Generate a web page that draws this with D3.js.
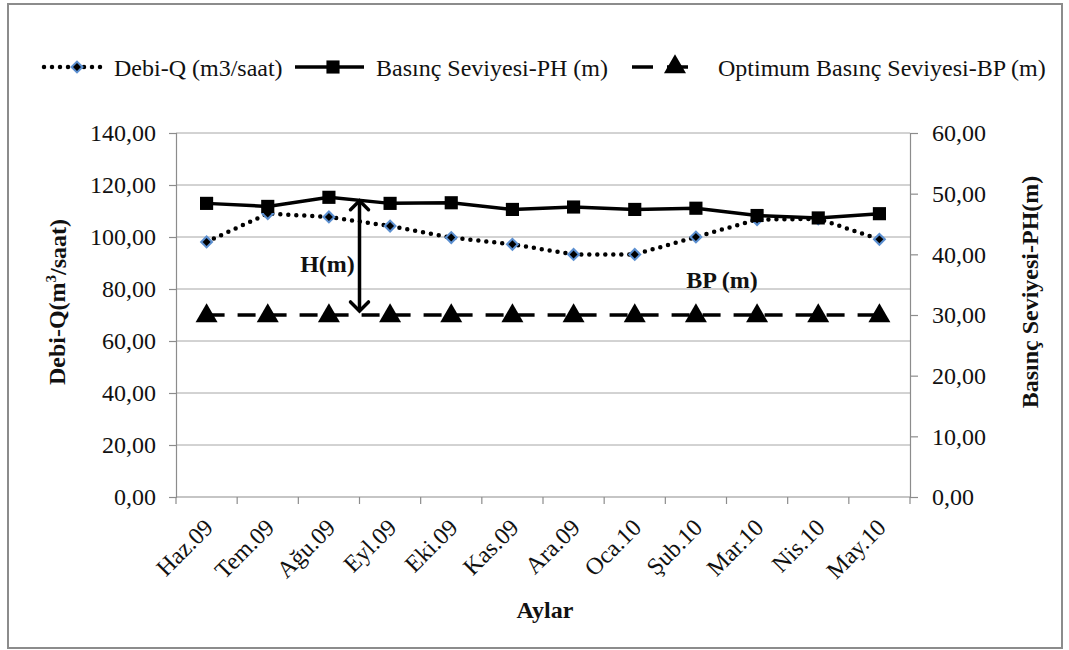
<!DOCTYPE html>
<html>
<head>
<meta charset="utf-8">
<script src="https://cdn.jsdelivr.net/npm/d3@7"></script>
<style>
  html, body { margin: 0; padding: 0; background: #fff; }
  svg text { font-family: "Liberation Serif", "Times New Roman", serif; fill: #111; }
</style>
</head>
<body>
<svg id="chart" width="1069" height="650"></svg>
<script>
// Monthly values, June 2009 – May 2010
const months = ["Haz.09", "Tem.09", "Ağu.09", "Eyl.09", "Eki.09", "Kas.09",
                "Ara.09", "Oca.10", "Şub.10", "Mar.10", "Nis.10", "May.10"];
const debiQ = [98.1, 109.0, 107.7, 104.2, 99.8, 97.2, 93.3, 93.3, 100.0, 106.7, 107.0, 99.1];
const basincPH = [48.4, 47.9, 49.4, 48.4, 48.5, 47.4, 47.8, 47.4, 47.6, 46.4, 46.0, 46.7];
const optimumBP = [30, 30, 30, 30, 30, 30, 30, 30, 30, 30, 30, 30];
const leftTicks = [0, 20, 40, 60, 80, 100, 120, 140];
const rightTicks = [0, 10, 20, 30, 40, 50, 60];

const svg = d3.select("#chart");
const fmt = v => d3.format(".2f")(v).replace(".", ",");

const plot = { left: 176, right: 910, top: 133, bottom: 497 };

const x = d3.scaleBand().domain(months).range([plot.left, plot.right]);
const yL = d3.scaleLinear().domain([0, 140]).range([plot.bottom, plot.top]);
const yR = d3.scaleLinear().domain([0, 60]).range([plot.bottom, plot.top]);
const cx = d => x(d) + x.bandwidth() / 2;

// outer frame
svg.append("rect")
  .attr("x", 8).attr("y", 4).attr("width", 1054).attr("height", 644)
  .attr("fill", "none").attr("stroke", "#8c8c8c").attr("stroke-width", 2);

// horizontal gridlines
svg.append("g").selectAll("line").data(leftTicks.filter(t => t > 0)).join("line")
  .attr("x1", plot.left).attr("x2", plot.right)
  .attr("y1", d => yL(d)).attr("y2", d => yL(d))
  .attr("stroke", "#a6a6a6").attr("stroke-width", 1);

const axisStyle = g => {
  g.selectAll(".domain").attr("stroke", "#8c8c8c").attr("stroke-width", 1.2);
  g.selectAll(".tick line").attr("stroke", "#8c8c8c").attr("stroke-width", 1.2);
  g.selectAll(".tick text").attr("font-size", 24).attr("fill", "#111")
    .attr("font-family", "Liberation Serif, serif");
};

// left axis
svg.append("g")
  .attr("transform", `translate(${plot.left},0)`)
  .call(d3.axisLeft(yL).tickValues(leftTicks).tickFormat(fmt).tickSizeOuter(0).tickSize(7).tickPadding(13))
  .call(axisStyle);

// right axis
svg.append("g")
  .attr("transform", `translate(${plot.right},0)`)
  .call(d3.axisRight(yR).tickValues(rightTicks).tickFormat(fmt).tickSizeOuter(0).tickSize(8).tickPadding(14))
  .call(axisStyle);

// bottom axis with ticks on category boundaries
const xAxis = svg.append("g").attr("transform", `translate(0,${plot.bottom})`);
xAxis.append("line")
  .attr("x1", plot.left).attr("x2", plot.right)
  .attr("stroke", "#8c8c8c").attr("stroke-width", 1.2);
const bounds = months.map(m => x(m)).concat([plot.right]);
xAxis.selectAll("line.tk").data(bounds).join("line").attr("class", "tk")
  .attr("x1", d => d).attr("x2", d => d).attr("y1", 0).attr("y2", 7)
  .attr("stroke", "#8c8c8c").attr("stroke-width", 1.2);
xAxis.selectAll("text").data(months).join("text")
  .attr("transform", d => `translate(${cx(d) + 2},${26}) rotate(-45)`)
  .attr("text-anchor", "end")
  .attr("dy", "0.35em")
  .attr("font-size", 24)
  .text(d => d);

// axis titles
svg.append("text")
  .attr("transform", "translate(57,302) rotate(-90)")
  .attr("text-anchor", "middle").attr("dy", "0.35em")
  .attr("font-size", 24).attr("font-weight", "bold")
  .call(t => {
    t.append("tspan").text("Debi-Q(m");
    t.append("tspan").text("3").attr("font-size", 15).attr("dy", "-0.6em");
    t.append("tspan").text("/saat)").attr("dy", "0.4em");
  });

svg.append("text")
  .attr("transform", "translate(1030,292) rotate(-90)")
  .attr("text-anchor", "middle").attr("dy", "0.35em")
  .attr("font-size", 24).attr("font-weight", "bold")
  .text("Basınç Seviyesi-PH(m)");

svg.append("text")
  .attr("x", 545).attr("y", 618)
  .attr("text-anchor", "middle")
  .attr("font-size", 24).attr("font-weight", "bold")
  .text("Aylar");

// marker shapes
const diamondOuter = d3.symbol().type(d3.symbolDiamond2).size(120);
const diamondInner = d3.symbol().type(d3.symbolDiamond2).size(40);
const square = d3.symbol().type(d3.symbolSquare2).size(220);
const triangle = d3.symbol().type(d3.symbolTriangle).size(210);

// Optimum pressure level (dashed, right axis)
const lineBP = d3.line().x((d, i) => cx(months[i])).y(d => yR(d));
svg.append("path").datum(optimumBP)
  .attr("d", lineBP).attr("fill", "none")
  .attr("stroke", "#000").attr("stroke-width", 3.5)
  .attr("stroke-dasharray", "18,13");
svg.append("g").selectAll("path").data(optimumBP).join("path")
  .attr("d", triangle)
  .attr("transform", (d, i) => `translate(${cx(months[i])},${yR(d) + 1})`)
  .attr("fill", "#000");

// flow rate (dotted, left axis)
const lineQ = d3.line().x((d, i) => cx(months[i])).y(d => yL(d));
svg.append("path").datum(debiQ)
  .attr("d", lineQ).attr("fill", "none")
  .attr("stroke", "#000").attr("stroke-width", 4.5)
  .attr("stroke-linecap", "round")
  .attr("stroke-dasharray", "0,8");
const qMarks = svg.append("g").selectAll("g").data(debiQ).join("g")
  .attr("transform", (d, i) => `translate(${cx(months[i])},${yL(d)})`);
qMarks.append("path").attr("d", diamondOuter).attr("fill", "#5b8fd0");
qMarks.append("path").attr("d", diamondInner).attr("fill", "#000");

// pressure level (solid, right axis)
const linePH = d3.line().x((d, i) => cx(months[i])).y(d => yR(d));
svg.append("path").datum(basincPH)
  .attr("d", linePH).attr("fill", "none")
  .attr("stroke", "#000").attr("stroke-width", 3.5);
svg.append("g").selectAll("path").data(basincPH).join("path")
  .attr("d", square)
  .attr("transform", (d, i) => `translate(${cx(months[i])},${yR(d)})`)
  .attr("fill", "#000");

// H(m): double-headed arrow between PH and BP levels
const arrowX = (cx(months[2]) + cx(months[3])) / 2;
const arrowTop = yR(49.0), arrowBot = yR(30.5);
const ag = svg.append("g").attr("stroke", "#000").attr("stroke-width", 3.5)
  .attr("fill", "none").attr("stroke-linecap", "round");
ag.append("line").attr("x1", arrowX).attr("x2", arrowX).attr("y1", arrowTop + 2).attr("y2", arrowBot - 2);
ag.append("path").attr("d", `M${arrowX - 9},${arrowTop + 10} L${arrowX},${arrowTop + 1} L${arrowX + 9},${arrowTop + 10}`);
ag.append("path").attr("d", `M${arrowX - 9},${arrowBot - 10} L${arrowX},${arrowBot - 1} L${arrowX + 9},${arrowBot - 10}`);

svg.append("text")
  .attr("x", arrowX - 32).attr("y", 272)
  .attr("text-anchor", "middle")
  .attr("font-size", 24).attr("font-weight", "bold")
  .text("H(m)");

svg.append("text")
  .attr("x", 722).attr("y", 288)
  .attr("text-anchor", "middle")
  .attr("font-size", 24).attr("font-weight", "bold")
  .text("BP (m)");

// legend
const legY = 67;
const leg = svg.append("g");
// flow rate entry
leg.append("line").attr("x1", 44).attr("x2", 106).attr("y1", legY).attr("y2", legY)
  .attr("stroke", "#000").attr("stroke-width", 4.5).attr("stroke-linecap", "round")
  .attr("stroke-dasharray", "0,8");
const lq = leg.append("g").attr("transform", `translate(77,${legY})`);
lq.append("path").attr("d", diamondOuter).attr("fill", "#5b8fd0");
lq.append("path").attr("d", diamondInner).attr("fill", "#000");
leg.append("text").attr("x", 114).attr("y", legY + 9).attr("font-size", 24).text("Debi-Q (m3/saat)");
// pressure entry
leg.append("line").attr("x1", 295).attr("x2", 364).attr("y1", legY).attr("y2", legY)
  .attr("stroke", "#000").attr("stroke-width", 3.5);
leg.append("path").attr("d", square).attr("transform", `translate(333,${legY})`).attr("fill", "#000");
leg.append("text").attr("x", 376).attr("y", legY + 9).attr("font-size", 24).text("Basınç Seviyesi-PH (m)");
// optimum entry
leg.append("line").attr("x1", 632).attr("x2", 700).attr("y1", legY).attr("y2", legY)
  .attr("stroke", "#000").attr("stroke-width", 3.5).attr("stroke-dasharray", "21,14");
leg.append("path").attr("d", triangle).attr("transform", `translate(675,${legY})`).attr("fill", "#000");
leg.append("text").attr("x", 718).attr("y", legY + 9).attr("font-size", 24).text("Optimum Basınç Seviyesi-BP (m)");
</script>
</body>
</html>
